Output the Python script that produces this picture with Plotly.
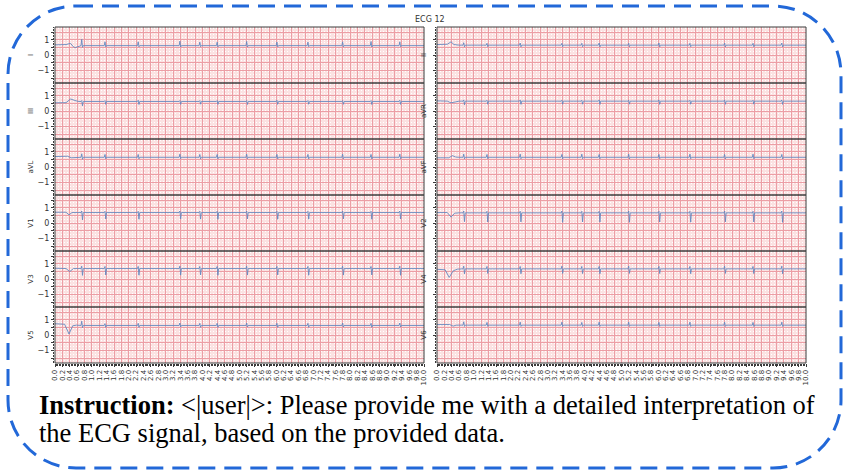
import plotly.graph_objects as go
from plotly.subplots import make_subplots

W, H = 844, 472

# ---------------- data ----------------
beat_t = [0.73, 1.36, 2.26, 3.39, 3.93, 4.40, 5.20, 6.02, 6.86, 7.80, 8.57, 9.35]

left_leads = ["I", "III", "aVL", "V1", "V3", "V5"]
right_leads = ["II", "aVR", "aVF", "V2", "V4", "V6"]

baseline = {
    "I": 0.63, "II": 0.66, "III": 0.64, "aVR": 0.66, "aVL": 0.65, "aVF": 0.65,
    "V1": 0.70, "V2": 0.68, "V3": 0.70, "V4": 0.68, "V5": 0.64, "V6": 0.66,
}

# peak (R) value of each beat
r_peak = {
    "I":   [1.05, 0.88, 0.88, 0.92, 0.86, 0.86, 0.90, 0.86, 0.86, 0.88, 0.90, 0.88],
    "II":  [0.82, 0.78, 0.80, 0.78, 0.78, 0.80, 0.78, 0.80, 0.78, 0.80, 0.78, 0.80],
    "III": [0.70, 0.70, 0.72, 0.70, 0.70, 0.70, 0.70, 0.72, 0.70, 0.70, 0.70, 0.72],
    "aVR": [0.74, 0.72, 0.74, 0.72, 0.72, 0.74, 0.72, 0.74, 0.72, 0.74, 0.72, 0.74],
    "aVL": [0.88, 0.84, 0.84, 0.86, 0.84, 0.84, 0.86, 0.84, 0.84, 0.86, 0.84, 0.86],
    "aVF": [0.86, 0.84, 0.86, 0.84, 0.86, 0.84, 0.86, 0.84, 0.86, 0.84, 0.86, 0.84],
    "V1":  [0.80, 0.78, 0.78, 0.80, 0.78, 0.78, 0.80, 0.78, 0.78, 0.80, 0.78, 0.80],
    "V2":  [0.80, 0.78, 0.78, 0.80, 0.78, 0.78, 0.80, 0.78, 0.78, 0.80, 0.78, 0.80],
    "V3":  [0.86, 0.84, 0.84, 0.86, 0.84, 0.84, 0.86, 0.84, 0.84, 0.86, 0.84, 0.86],
    "V4":  [0.86, 0.84, 0.84, 0.86, 0.84, 0.84, 0.86, 0.84, 0.84, 0.86, 0.84, 0.86],
    "V5":  [0.92, 0.76, 0.78, 0.80, 0.78, 0.78, 0.80, 0.78, 0.78, 0.80, 0.78, 0.80],
    "V6":  [0.88, 0.84, 0.86, 0.86, 0.84, 0.86, 0.86, 0.84, 0.86, 0.86, 0.84, 0.86],
}

# trough (S) value of each beat
s_trough = {
    "I":   [0.52, 0.55, 0.55, 0.54, 0.56, 0.55, 0.54, 0.55, 0.56, 0.55, 0.54, 0.56],
    "II":  [0.55, 0.56, 0.55, 0.56, 0.56, 0.55, 0.56, 0.55, 0.56, 0.55, 0.56, 0.55],
    "III": [0.35, 0.45, 0.44, 0.45, 0.46, 0.45, 0.44, 0.45, 0.46, 0.45, 0.44, 0.45],
    "aVR": [0.42, 0.46, 0.45, 0.46, 0.46, 0.45, 0.46, 0.45, 0.46, 0.45, 0.46, 0.45],
    "aVL": [0.52, 0.55, 0.55, 0.56, 0.55, 0.55, 0.56, 0.55, 0.55, 0.56, 0.55, 0.56],
    "aVF": [0.55, 0.56, 0.56, 0.55, 0.56, 0.56, 0.55, 0.56, 0.56, 0.55, 0.56, 0.55],
    "V1":  [0.22, 0.28, 0.26, 0.28, 0.27, 0.26, 0.28, 0.26, 0.27, 0.28, 0.26, 0.28],
    "V2":  [0.10, 0.08, 0.09, 0.06, 0.08, 0.08, 0.06, 0.08, 0.07, 0.09, 0.08, 0.06],
    "V3":  [0.25, 0.28, 0.26, 0.27, 0.28, 0.26, 0.27, 0.28, 0.26, 0.27, 0.28, 0.26],
    "V4":  [0.35, 0.38, 0.36, 0.38, 0.37, 0.36, 0.38, 0.37, 0.36, 0.38, 0.37, 0.36],
    "V5":  [0.50, 0.52, 0.52, 0.54, 0.52, 0.52, 0.54, 0.52, 0.52, 0.54, 0.52, 0.54],
    "V6":  [0.58, 0.58, 0.58, 0.58, 0.58, 0.58, 0.58, 0.58, 0.58, 0.58, 0.58, 0.58],
}

# first 0.65 s of every lead (time, value)
onset_t = {
    "I":   [0.0, 0.30, 0.42, 0.50, 0.55, 0.65],
    "II":  [0.0, 0.28, 0.38, 0.46, 0.60, 0.65],
    "III": [0.0, 0.30, 0.42, 0.50, 0.60, 0.65],
    "aVR": [0.0, 0.28, 0.38, 0.46, 0.60, 0.65],
    "aVL": [0.0, 0.34, 0.44, 0.52, 0.60, 0.65],
    "aVF": [0.0, 0.32, 0.42, 0.50, 0.60, 0.65],
    "V1":  [0.0, 0.30, 0.38, 0.46, 0.60, 0.65],
    "V2":  [0.0, 0.28, 0.38, 0.48, 0.60, 0.65],
    "V3":  [0.0, 0.30, 0.40, 0.50, 0.60, 0.65],
    "V4":  [0.0, 0.22, 0.33, 0.44, 0.55, 0.65],
    "V5":  [0.0, 0.26, 0.38, 0.48, 0.58, 0.65],
    "V6":  [0.0, 0.34, 0.44, 0.52, 0.60, 0.65],
}
onset_v = {
    "I":   [0.68, 0.70, 0.78, 0.55, 0.50, 0.58],
    "II":  [0.70, 0.72, 0.88, 0.70, 0.66, 0.66],
    "III": [0.55, 0.56, 0.80, 0.72, 0.66, 0.64],
    "aVR": [0.68, 0.66, 0.55, 0.60, 0.66, 0.66],
    "aVL": [0.70, 0.72, 0.62, 0.64, 0.65, 0.65],
    "aVF": [0.62, 0.62, 0.76, 0.67, 0.65, 0.65],
    "V1":  [0.72, 0.72, 0.55, 0.70, 0.70, 0.70],
    "V2":  [0.70, 0.70, 0.40, 0.66, 0.68, 0.68],
    "V3":  [0.72, 0.70, 0.50, 0.70, 0.70, 0.70],
    "V4":  [0.65, 0.62, 0.12, 0.55, 0.66, 0.68],
    "V5":  [0.75, 0.72, 0.08, 0.62, 0.66, 0.64],
    "V6":  [0.70, 0.70, 0.60, 0.66, 0.66, 0.66],
}

x_ticks = [round(i * 0.2, 1) for i in range(51)]
y_ticks = [-1.5, -1.0, -0.5, 0.0, 0.5, 1.0, 1.5]
y_labels = ["", "\u22121", "", "0", "", "1", ""]

title_text = "ECG 12"
SERIF = "Liberation Serif"
line1 = ("<b>Instruction:</b><span style=\"font-family:'Liberation Serif',serif\">"
         " &lt;|user|&gt;: Please provide me with a detailed interpretation of</span>")
line2 = "the ECG signal, based on the provided data."

# ---------------- styling ----------------
MAJOR = "rgb(236,158,165)"
MINOR = "rgb(251,226,226)"
FRAME = "#3a3a3a"
TRACE = "#6489c0"
QRS_OFF = [-0.025, -0.005, 0.015, 0.035]


def lead_xy(name):
    xs = list(onset_t[name])
    ys = list(onset_v[name])
    b = baseline[name]
    for tb, r, s in zip(beat_t, r_peak[name], s_trough[name]):
        xs += [tb + QRS_OFF[0], tb + QRS_OFF[1], tb + QRS_OFF[2], tb + QRS_OFF[3]]
        ys += [b, r, s, b]
    xs.append(10.0)
    ys.append(b)
    return xs, ys


fig = make_subplots(rows=6, cols=2, vertical_spacing=0, horizontal_spacing=0.02)

col_px = [(55, 424), (437, 806)]
top0, row_h = 27, 56

for r in range(6):
    top_px = top0 + r * row_h
    ydom = [1 - (top_px + row_h) / H, 1 - top_px / H]
    for c, leads in enumerate([left_leads, right_leads]):
        name = leads[r]
        idx = r * 2 + c + 1
        xs, ys = lead_xy(name)
        fig.add_trace(go.Scatter(x=xs, y=ys, mode="lines",
                                 line=dict(color=TRACE, width=0.9),
                                 hoverinfo="skip", showlegend=False),
                      row=r + 1, col=c + 1)
        bottom = (r == 5)
        xa = "xaxis" if idx == 1 else f"xaxis{idx}"
        ya = "yaxis" if idx == 1 else f"yaxis{idx}"
        fig.update_layout({
            xa: dict(
                domain=[col_px[c][0] / W, col_px[c][1] / W],
                range=[0, 10], tickmode="array", tickvals=x_ticks,
                ticktext=[f"{v:.1f}" for v in x_ticks],
                showticklabels=bottom, tickangle=-90,
                tickfont=dict(size=7, color="#333", family="DejaVu Sans"),
                ticks="outside" if bottom else "", ticklen=3, tickwidth=0.8,
                tickcolor=FRAME,
                showgrid=True, gridcolor=MAJOR, gridwidth=0.8,
                minor=dict(tickmode="linear", tick0=0, dtick=0.04,
                           showgrid=True, gridcolor=MINOR, gridwidth=0.5,
                           ticks="outside" if bottom else "", ticklen=1.5,
                           tickcolor=FRAME, tickwidth=0.5),
                showline=False, zeroline=False, automargin=False,
                fixedrange=True,
            ),
            ya: dict(
                domain=ydom, range=[-1.82, 1.85], tickmode="array",
                tickvals=y_ticks, ticktext=y_labels,
                showticklabels=(c == 0),
                tickfont=dict(size=8, color="#333", family="DejaVu Sans"),
                ticks="outside", ticklen=3, tickwidth=0.8, tickcolor=FRAME,
                showgrid=True, gridcolor=MAJOR, gridwidth=0.8,
                minor=dict(tickmode="linear", tick0=0, dtick=0.1,
                           showgrid=True, gridcolor=MINOR, gridwidth=0.5,
                           ticks="outside", ticklen=1.5, tickcolor=FRAME,
                           tickwidth=0.5),
                showline=False, zeroline=False, automargin=False,
                fixedrange=True,
                title=dict(text=name, standoff=3 if c == 0 else 5,
                           font=dict(size=7, color="#333", family="DejaVu Sans")),
            ),
        })
        # subplot frame drawn on top of every grid
        fig.add_shape(type="rect", xref="paper", yref="paper",
                      x0=col_px[c][0] / W, x1=col_px[c][1] / W,
                      y0=ydom[0], y1=ydom[1],
                      line=dict(color=FRAME, width=1),
                      fillcolor="rgba(0,0,0,0)", layer="above")

# rounded dashed frame
x0, x1 = 8 / W, 841 / W
yt, yb = 1 - 6 / H, 1 - 468 / H
rad = 68
rx, ry = rad / W, rad / H
k = 0.5523
path = (
    f"M {x0 + rx},{yt} L {x1 - rx},{yt} "
    f"C {x1 - rx + k * rx},{yt} {x1},{yt - ry + k * ry} {x1},{yt - ry} "
    f"L {x1},{yb + ry} "
    f"C {x1},{yb + ry - k * ry} {x1 - rx + k * rx},{yb} {x1 - rx},{yb} "
    f"L {x0 + rx},{yb} "
    f"C {x0 + rx - k * rx},{yb} {x0},{yb + ry - k * ry} {x0},{yb + ry} "
    f"L {x0},{yt - ry} "
    f"C {x0},{yt - ry + k * ry} {x0 + rx - k * rx},{yt} {x0 + rx},{yt} Z"
)
fig.add_shape(type="path", path=path, xref="paper", yref="paper",
              line=dict(color="#2268d8", width=3, dash="17px,9px"),
              fillcolor="rgba(0,0,0,0)", layer="above")

fig.add_annotation(text=title_text, x=430 / W, y=1 - 19 / H, xref="paper",
                   yref="paper", showarrow=False, xanchor="center",
                   yanchor="middle",
                   font=dict(size=8, color="#333", family="DejaVu Sans"))
fig.add_annotation(text=line1, x=37 / W, y=1 - 405 / H, xref="paper",
                   yref="paper", showarrow=False, xanchor="left",
                   yanchor="middle",
                   font=dict(size=26.5, color="black", family=SERIF))
fig.add_annotation(text=line2, x=37 / W, y=1 - 433 / H, xref="paper",
                   yref="paper", showarrow=False, xanchor="left",
                   yanchor="middle",
                   font=dict(size=26.5, color="black", family=SERIF))

fig.update_layout(width=W, height=H, margin=dict(l=0, r=0, t=0, b=0),
                  paper_bgcolor="white", plot_bgcolor="white",
                  showlegend=False)

fig.write_html("out.html")
